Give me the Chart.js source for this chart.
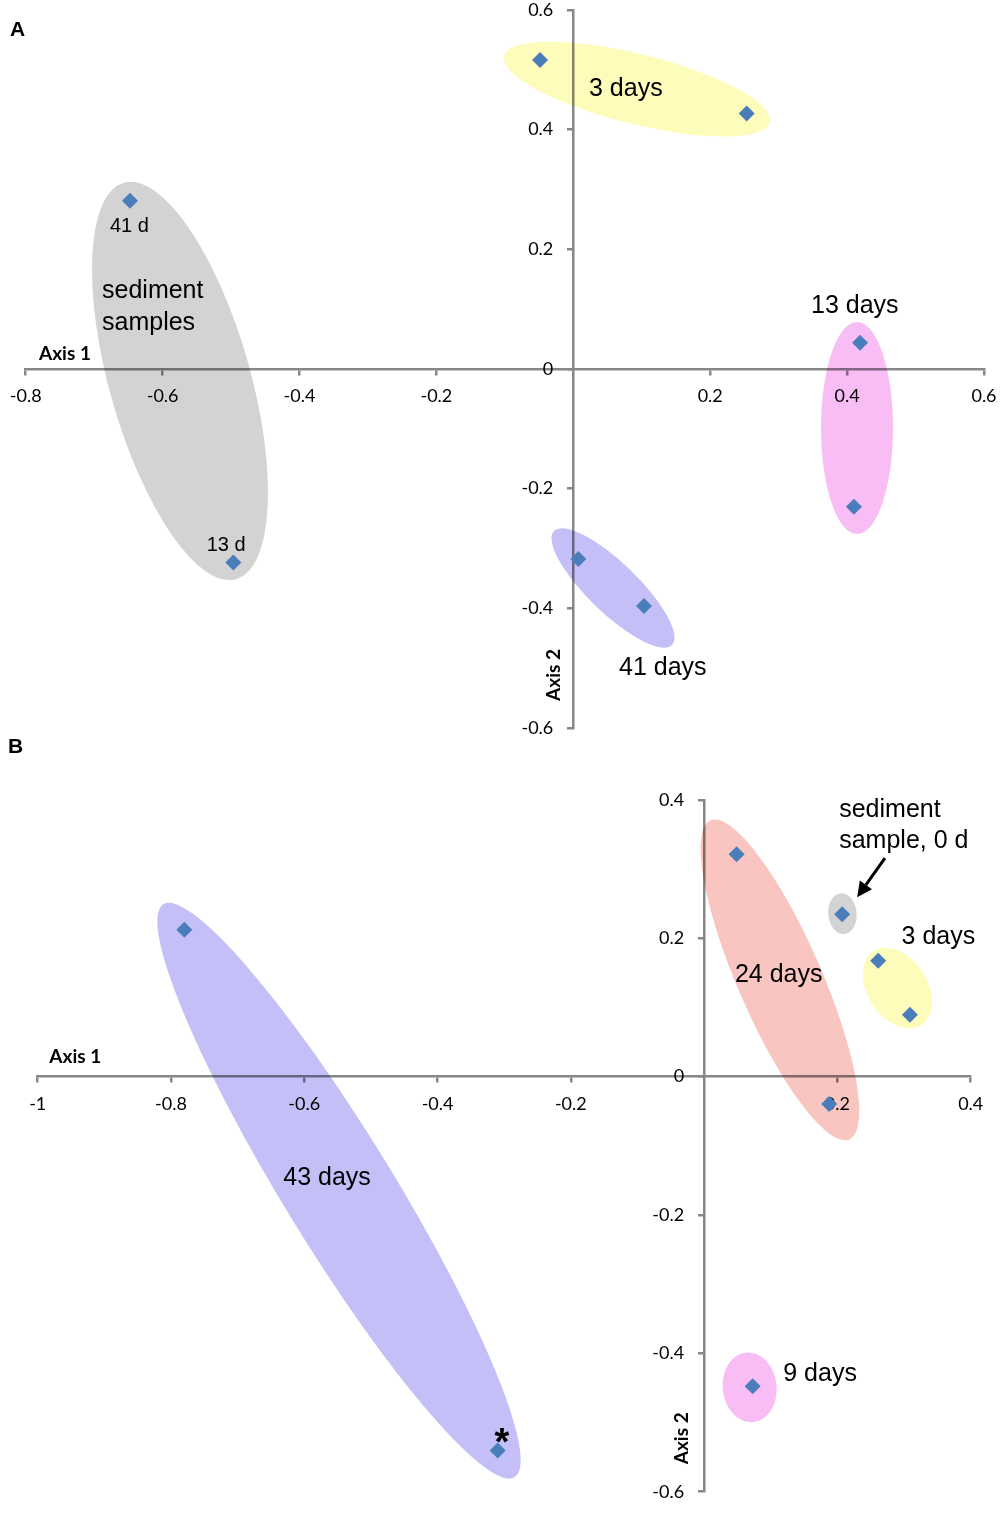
<!DOCTYPE html>
<html><head><meta charset="utf-8">
<script src="https://cdn.jsdelivr.net/npm/chart.js@4.4.1/dist/chart.umd.min.js"></script>
<style>
html,body{margin:0;padding:0;background:#fff;width:1000px;height:1516px;overflow:hidden;}
.panel{position:absolute;left:0;width:1000px;}
#wrapA{top:0;height:740px;}
#wrapB{top:740px;height:776px;}
.plabel{position:absolute;font:bold 21px "Liberation Sans",Arial,sans-serif;line-height:21px;color:#000;}
</style></head><body>
<div class="panel" id="wrapA"><canvas id="chartA"></canvas></div>
<div class="panel" id="wrapB"><canvas id="chartB"></canvas></div>
<div class="plabel" style="top:18px;left:10px">A</div>
<div class="plabel" style="top:735px;left:8px">B</div>
<script>
// ---------- Panel A data ----------
const samplesA = ['3 d a', '3 d b', 'sediment 41 d', 'sediment 13 d', '13 d a', '13 d b', '41 d a', '41 d b'];
const axis1A = [-0.0486, 0.2533, -0.6476, -0.4967, 0.4189, 0.4100, 0.0073, 0.1033];
const axis2A = [0.5163, 0.4272, 0.2812, -0.3236, 0.0439, -0.2301, -0.3175, -0.3960];
const xTicksA = [-0.8, -0.6, -0.4, -0.2, 0.2, 0.4, 0.6];
const yTicksA = [0.6, 0.4, 0.2, 0, -0.2, -0.4, -0.6];

// ---------- Panel B data ----------
const samplesB = ['43 d a', '43 d b', '24 d a', '24 d b', 'sediment 0 d', '3 d a', '3 d b', '9 d'];
const axis1B = [-0.7800, -0.3098, 0.0488, 0.1877, 0.2072, 0.2612, 0.3088, 0.0728];
const axis2B = [0.2123, -0.5406, 0.3217, -0.0396, 0.2350, 0.1675, 0.0894, -0.4477];
const xTicksB = [-1, -0.8, -0.6, -0.4, -0.2, 0.2, 0.4];
const yTicksB = [0.4, 0.2, 0, -0.2, -0.4, -0.6];

// ---------- group ellipses (data coords; radii in x-axis units) ----------
const groupsA = [
  {x: -0.5746, y: -0.0200, a: 0.3009, b: 0.1030, angle: 74.2, color: '#d3d3d3'},
  {x: 0.0931, y: 0.4678, a: 0.2001, b: 0.0511, angle: 14, color: '#fdfcbb'},
  {x: 0.4145, y: -0.0986, a: 0.1549, b: 0.0526, angle: 90, color: '#f8bdf5'},
  {x: 0.0580, y: -0.3659, a: 0.1198, b: 0.0365, angle: 44, color: '#c4c0f7'}
];
const groupsB = [
  {x: -0.5479, y: -0.1649, a: 0.5041, b: 0.0825, angle: 58.5, color: '#c4c0f7'},
  {x: 0.1137, y: 0.1400, a: 0.2611, b: 0.0630, angle: 66.5, color: '#f8c5c0'},
  {x: 0.2075, y: 0.2357, a: 0.0308, b: 0.0213, angle: 85, color: '#d3d3d3'},
  {x: 0.2900, y: 0.1280, a: 0.0660, b: 0.0450, angle: 57, color: '#fdfcbb'},
  {x: 0.0683, y: -0.4491, a: 0.0525, b: 0.0405, angle: 84, color: '#f8bdf5'}
];

// ---------- text annotations (left x, baseline y in data coords) ----------
const notesA = [
  {text: '41 d', x: -0.6769, y: 0.2294, size: 20},
  {text: '13 d', x: -0.5356, y: -0.3041, size: 20},
  {text: 'sediment', x: -0.6885, y: 0.1191, size: 25},
  {text: 'samples', x: -0.6885, y: 0.0657, size: 25},
  {text: '3 days', x: 0.0229, y: 0.4558, size: 25},
  {text: '13 days', x: 0.3473, y: 0.0937, size: 25},
  {text: '41 days', x: 0.0668, y: -0.5106, size: 25}
];
const notesB = [
  {text: 'sediment', x: 0.2027, y: 0.3751, size: 25},
  {text: 'sample, 0 d', x: 0.2027, y: 0.3303, size: 25},
  {text: '3 days', x: 0.2963, y: 0.1916, size: 25},
  {text: '24 days', x: 0.0462, y: 0.1376, size: 25},
  {text: '43 days', x: -0.6315, y: -0.1562, size: 25},
  {text: '9 days', x: 0.1187, y: -0.4405, size: 25},
  {text: '*', x: -0.3034, y: -0.5464, size: 38, bold: true, align: 'center'}
];
const titlesA = {ax1: {x: -0.7806, y: 0.0150}, ax2: {x: -0.0282, y: -0.5113}};
const titlesB = {ax1: {x: -0.9826, y: 0.0197}, ax2: {x: -0.0333, y: -0.5228}};
const arrowsB = [{x1: 0.2713, y1: 0.3159, x2: 0.2297, y2: 0.2595}];

const AXIS = '#878787';
const TICKFONT = {family: 'Lato', size: 18};

function scaleOpts(min, max, ticksArr, pos, showLabels) {
  return {
    type: 'linear', min, max, position: pos,
    afterBuildTicks: s => { s.ticks = ticksArr.map(v => ({value: v})); },
    afterFit: s => { s.paddingLeft = 0; s.paddingRight = 0; s.paddingTop = 0; s.paddingBottom = 0; },
    grid: {display: true, drawOnChartArea: false, drawTicks: true, tickLength: 5, color: AXIS, lineWidth: 2.5},
    border: {display: true, color: AXIS, width: 2.5},
    ticks: {display: showLabels, padding: 11.5, color: '#000', font: TICKFONT, maxRotation: 0, minRotation: 0,
            autoSkip: false, callback: v => String(v)}
  };
}

function makeDecor(groups, notes, titles, arrows) {
  return {
    id: 'decor',
    beforeDatasetsDraw(chart) {
      const ctx = chart.ctx, xs = chart.scales.x, ys = chart.scales.y;
      const k = xs.getPixelForValue(1) - xs.getPixelForValue(0);
      ctx.save();
      ctx.globalCompositeOperation = 'multiply';
      for (const g of groups) {
        ctx.beginPath();
        ctx.ellipse(xs.getPixelForValue(g.x), ys.getPixelForValue(g.y), g.a * k, g.b * k,
                    g.angle * Math.PI / 180, 0, Math.PI * 2);
        ctx.fillStyle = g.color;
        ctx.fill();
      }
      ctx.restore();
    },
    afterDraw(chart) {
      const ctx = chart.ctx, xs = chart.scales.x, ys = chart.scales.y;
      ctx.save();
      // y tick labels
      ctx.font = '18px Lato';
      ctx.fillStyle = '#000';
      ctx.textAlign = 'right';
      ctx.textBaseline = 'middle';
      const x0 = xs.getPixelForValue(0);
      ys.ticks.forEach(t => ctx.fillText(String(t.value), x0 - 20, ys.getPixelForValue(t.value)));
      // axis titles
      ctx.font = 'bold 19px Lato';
      ctx.textAlign = 'left';
      ctx.textBaseline = 'alphabetic';
      ctx.fillText('Axis 1', xs.getPixelForValue(titles.ax1.x), ys.getPixelForValue(titles.ax1.y));
      ctx.save();
      ctx.translate(xs.getPixelForValue(titles.ax2.x), ys.getPixelForValue(titles.ax2.y));
      ctx.rotate(-Math.PI / 2);
      ctx.textAlign = 'center';
      ctx.textBaseline = 'middle';
      ctx.fillText('Axis 2', 0, 0);
      ctx.restore();
      // annotations
      for (const n of notes) {
        ctx.font = (n.bold ? 'bold ' : '') + n.size + 'px "Liberation Sans", Arial, sans-serif';
        ctx.textAlign = n.align || 'left';
        ctx.textBaseline = 'alphabetic';
        ctx.fillStyle = '#000';
        ctx.fillText(n.text, xs.getPixelForValue(n.x), ys.getPixelForValue(n.y));
      }
      // arrows
      for (const a of arrows) {
        const x1 = xs.getPixelForValue(a.x1), y1 = ys.getPixelForValue(a.y1);
        const x2 = xs.getPixelForValue(a.x2), y2 = ys.getPixelForValue(a.y2);
        const ang = Math.atan2(y2 - y1, x2 - x1);
        const hl = 15, hw = 7.5;
        const bx = x2 - hl * Math.cos(ang), by = y2 - hl * Math.sin(ang);
        ctx.strokeStyle = '#000';
        ctx.lineWidth = 3;
        ctx.beginPath(); ctx.moveTo(x1, y1); ctx.lineTo(bx, by); ctx.stroke();
        ctx.beginPath();
        ctx.moveTo(x2, y2);
        ctx.lineTo(bx + hw * Math.sin(ang), by - hw * Math.cos(ang));
        ctx.lineTo(bx - hw * Math.sin(ang), by + hw * Math.cos(ang));
        ctx.closePath();
        ctx.fillStyle = '#000';
        ctx.fill();
      }
      ctx.restore();
    }
  };
}

function makeChart(id, xs, ys, xMin, xMax, yMin, yMax, xTicks, yTicks, padding, groups, notes, titles, arrows) {
  return new Chart(document.getElementById(id), {
    type: 'scatter',
    data: {
      datasets: [{
        data: xs.map((v, i) => ({x: v, y: ys[i]})),
        pointStyle: 'rectRot', pointRadius: 8, pointHoverRadius: 8,
        backgroundColor: '#4a7ebb', borderColor: '#4a7ebb', pointBorderWidth: 0, showLine: false
      }]
    },
    options: {
      responsive: true, maintainAspectRatio: false, animation: false, events: [],
      layout: {padding},
      plugins: {legend: {display: false}, tooltip: {enabled: false}},
      scales: {
        x: scaleOpts(xMin, xMax, xTicks, {y: 0}, true),
        y: scaleOpts(yMin, yMax, yTicks, {x: 0}, false)
      }
    },
    plugins: [makeDecor(groups, notes, titles, arrows)]
  });
}

makeChart('chartA', axis1A, axis2A, -0.8, 0.6, -0.6, 0.6, xTicksA, yTicksA,
  {left: 25.7, right: 16, top: 10, bottom: 12}, groupsA, notesA, titlesA, []);
makeChart('chartB', axis1B, axis2B, -1, 0.4, -0.6, 0.4, xTicksB, yTicksB,
  {left: 37.7, right: 29.3, top: 60, bottom: 24.3}, groupsB, notesB, titlesB, arrowsB);
</script>
</body></html>
